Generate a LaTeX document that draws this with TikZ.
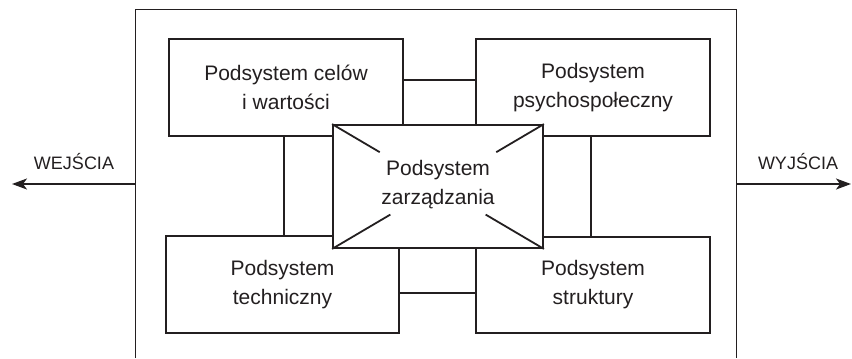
\documentclass[tikz,border=0pt]{standalone}
\usepackage{fontspec}
\setmainfont{Liberation Sans}
\usetikzlibrary{calc,arrows.meta}
\definecolor{ink}{HTML}{231F20}
\begin{document}
\begin{tikzpicture}[x=1bp,y=-1bp,
  sub/.style={draw=ink,line width=1.8bp,fill=white,align=center,text=ink,
    font=\fontsize{21bp}{29bp}\selectfont,inner sep=0pt},
  link/.style={draw=ink,line width=1.8bp},
  frame/.style={draw=ink,line width=1bp},
  flow/.style={draw=ink,line width=1.6bp,-{Stealth[length=15bp,width=11bp,inset=4bp]}},
  io/.style={text=ink,font=\fontsize{18bp}{22bp}\selectfont,inner sep=0pt}]
\useasboundingbox (0,0) rectangle (852,358);
% system boundary, open at the bottom
\coordinate (fbl) at (135,358);
\coordinate (ftl) at (135,9);
\coordinate (ftr) at (736,9);
\coordinate (fbr) at (736,358);
\draw[frame] (fbl) -- (ftl) -- (ftr) -- (fbr);
% inputs and outputs
\coordinate (inS) at (135,184);
\coordinate (inE) at (12,184);
\coordinate (outS) at (736,184);
\coordinate (outE) at (851,184);
\draw[flow] (inS) -- (inE);
\draw[flow] (outS) -- (outE);
\node[io] (win) at (74,162) {WEJŚCIA};
\node[io] (wout) at (798,162) {WYJŚCIA};
% subsystems
\node[sub,minimum width=234bp,minimum height=97bp] (tl) at (286,87.5) {Podsystem celów\\i wartości};
\node[sub,minimum width=234bp,minimum height=97bp] (tr) at (593,87.5) {Podsystem\\psychospołeczny};
\node[sub,minimum width=233bp,minimum height=97bp] (bl) at (282.5,284.5) {Podsystem\\techniczny};
\node[sub,minimum width=234bp,minimum height=96bp] (br) at (593,285) {Podsystem\\struktury};
% links between subsystems
\draw[link] ([yshift=7.5bp]tl.east) -- ([yshift=7.5bp]tr.west);
\draw[link] ([yshift=-8.5bp]bl.east) -- ([yshift=-8.5bp]bl.east -| br.west);
\draw[link] ([xshift=-2bp]tl.south) -- ([xshift=-2bp]tl.south |- bl.north);
\draw[link] ([xshift=-2bp]tr.south) -- ([xshift=-2bp]tr.south |- br.north);
% management subsystem in the middle
\node[sub,minimum width=210bp,minimum height=123bp] (c) at (438,186.5) {};
\draw[link] (c.north west) -- ($(c.north west)!0.45!(c.center)$);
\draw[link] (c.north east) -- ($(c.north east)!0.45!(c.center)$);
\draw[link] (c.south west) -- ($(c.south west)!0.55!(c.center)$);
\draw[link] (c.south east) -- ($(c.south east)!0.55!(c.center)$);
\node[sub,draw=none,fill=none] (ct) at (438,185) {Podsystem\\zarządzania};
\end{tikzpicture}
\end{document}
